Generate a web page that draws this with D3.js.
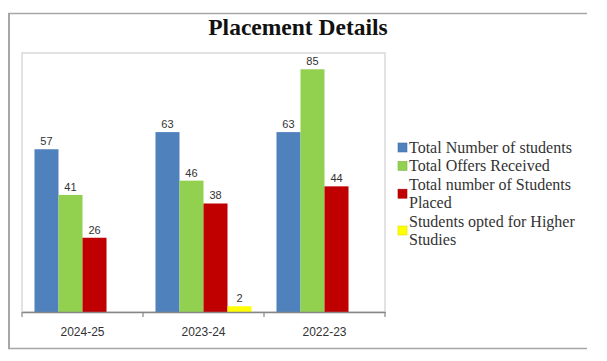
<!DOCTYPE html>
<html>
<head>
<meta charset="utf-8">
<script src="https://cdn.jsdelivr.net/npm/d3@7"></script>
<style>
  html, body { margin: 0; padding: 0; background: #fff; }
  svg { display: block; }
</style>
</head>
<body>
<svg id="chart" width="607" height="361"></svg>
<script>
// data
const categories = ['2024-25', '2023-24', '2022-23'];
const seriesNames = [
  'Total Number of students',
  'Total Offers Received',
  'Total number of Students Placed',
  'Students opted for Higher Studies'
];
const legendLines = [
  ['Total Number of students'],
  ['Total Offers Received'],
  ['Total number of Students', 'Placed'],
  ['Students opted for Higher', 'Studies']
];
const seriesColors = ['#4f81bd', '#92d050', '#c00000', '#ffff00'];
const totalStudents = [57, 63, 63];
const offersReceived = [41, 46, 85];
const studentsPlaced = [26, 38, 44];
const higherStudies = [null, 2, null];

const seriesValues = [totalStudents, offersReceived, studentsPlaced, higherStudies];

const svg = d3.select('#chart');

// outer frame (no right edge in the source)
const frame = svg.append('g');
frame.append('line').attr('x1', 8).attr('x2', 587).attr('y1', 13.5).attr('y2', 13.5)
  .attr('stroke', '#a6a6a6').attr('stroke-width', 1.5);
frame.append('line').attr('x1', 9).attr('x2', 9).attr('y1', 13).attr('y2', 348.5)
  .attr('stroke', '#a6a6a6').attr('stroke-width', 2);
frame.append('line').attr('x1', 8).attr('x2', 587).attr('y1', 348.5).attr('y2', 348.5)
  .attr('stroke', '#a6a6a6').attr('stroke-width', 1.5);

// title
svg.append('text')
  .attr('x', 298).attr('y', 35)
  .attr('text-anchor', 'middle')
  .attr('font-family', '"Liberation Serif", "Times New Roman", serif')
  .attr('font-weight', 'bold')
  .attr('font-size', 23.5)
  .attr('fill', '#111')
  .text('Placement Details');

// plot area
const plot = { left: 22, right: 385, top: 53, bottom: 312 };

svg.append('rect')
  .attr('x', plot.left).attr('y', plot.top)
  .attr('width', plot.right - plot.left).attr('height', plot.bottom - plot.top)
  .attr('fill', 'none').attr('stroke', '#d9d9d9').attr('stroke-width', 1.5);

const x0 = d3.scaleBand().domain(categories).range([plot.left, plot.right]).padding(0);
const x1 = d3.scaleBand().domain(d3.range(seriesNames.length))
  .range([0, x0.bandwidth()]).paddingInner(0).paddingOuter(0.52);
const y = d3.scaleLinear().domain([0, 90]).range([plot.bottom, plot.top + 2]);

const groups = svg.append('g').selectAll('g')
  .data(categories)
  .join('g')
  .attr('transform', d => `translate(${x0(d)},0)`);

const cells = groups.selectAll('g')
  .data((c, ci) => seriesValues.map((vals, si) => ({ si, v: vals[ci] })).filter(d => d.v != null))
  .join('g');

cells.append('rect')
  .attr('x', d => x1(d.si))
  .attr('y', d => y(d.v))
  .attr('width', x1.bandwidth())
  .attr('height', d => y(0) - y(d.v))
  .attr('fill', d => seriesColors[d.si]);

cells.append('text')
  .attr('x', d => x1(d.si) + x1.bandwidth() / 2)
  .attr('y', d => y(d.v) - 4)
  .attr('text-anchor', 'middle')
  .attr('font-family', '"Liberation Sans", Arial, sans-serif')
  .attr('font-size', 11)
  .attr('fill', '#333')
  .text(d => d.v);

// category axis
const xAxis = svg.append('g')
  .attr('transform', `translate(0,${plot.bottom})`)
  .call(d3.axisBottom(x0).tickSize(0).tickPadding(15));
xAxis.select('.domain').attr('stroke', '#868686').attr('stroke-width', 1.5);
xAxis.selectAll('text')
  .attr('font-family', '"Liberation Sans", Arial, sans-serif')
  .attr('font-size', 12)
  .attr('fill', '#333');

// tick marks sit between the categories
const bounds = categories.map(c => x0(c)).concat([plot.right]);
xAxis.selectAll('line.sep')
  .data(bounds)
  .join('line')
  .attr('class', 'sep')
  .attr('x1', d => d).attr('x2', d => d)
  .attr('y1', 0).attr('y2', 5)
  .attr('stroke', '#868686').attr('stroke-width', 1.2);

// legend
const legend = svg.append('g').attr('transform', 'translate(398,0)');
const lineH = 18.4;
let lineIdx = 0;
legendLines.forEach((lines, i) => {
  const first = lineIdx;
  const lastBase = 153 + (first + lines.length - 1) * lineH;
  const item = legend.append('g');
  item.append('rect')
    .attr('x', 0)
    .attr('y', lastBase - 10 - (lines.length > 1 ? 9 : 0))
    .attr('width', 9).attr('height', 9)
    .attr('fill', seriesColors[i])
    .attr('stroke', d3.color(seriesColors[i]).darker(0.4))
    .attr('stroke-width', 0.6);
  lines.forEach((t, k) => {
    item.append('text')
      .attr('x', 11)
      .attr('y', 153 + (first + k) * lineH)
      .attr('font-family', '"Liberation Serif", "Times New Roman", serif')
      .attr('font-size', 16)
      .attr('fill', '#333')
      .text(t);
  });
  lineIdx += lines.length;
});
</script>
</body>
</html>
